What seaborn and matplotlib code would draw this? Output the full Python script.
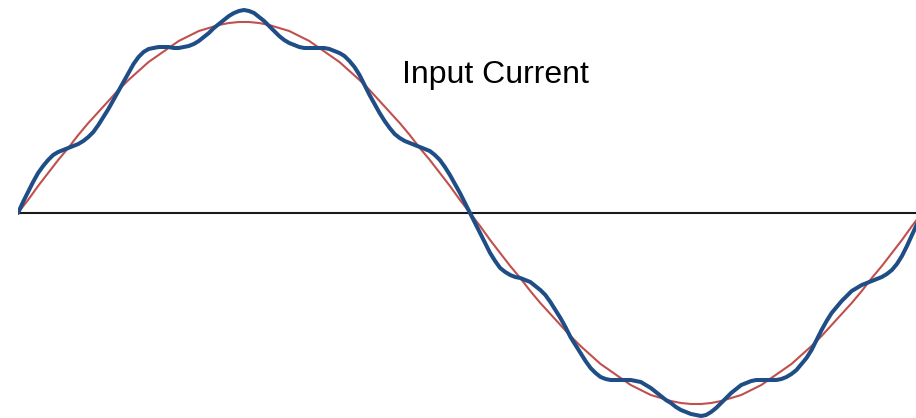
import numpy as np
import pandas as pd
import seaborn as sns
import matplotlib.pyplot as plt

# Phase angle in degrees
phase_fund = list(range(0, 361, 4))
phase_curr = list(range(0, 361, 2))

# Fundamental (pure sine), peak ~191
fundamental = [0, 13, 27, 40, 53, 65, 78, 90, 101, 112, 123, 133, 142, 151, 158, 165,
               172, 177, 182, 185, 188, 190, 191, 191, 190, 188, 185, 182, 177, 172,
               165, 158, 151, 142, 133, 123, 112, 101, 90, 78, 65, 53, 40, 27, 13, 0,
               -13, -27, -40, -53, -65, -78, -90, -101, -112, -123, -133, -142, -151,
               -158, -165, -172, -177, -182, -185, -188, -190, -191, -191, -190, -188,
               -185, -182, -177, -172, -165, -158, -151, -142, -133, -123, -112, -101,
               -90, -78, -65, -53, -40, -27, -13, 0]

# Distorted input current (every 2 degrees)
input_current = [
    0, 11, 21, 31, 40, 47, 53, 58, 61, 63, 65, 67, 69, 72, 76, 81, 88, 96, 104, 113,
    122, 131, 140, 149, 156, 161, 164, 165, 166, 166, 166, 165, 165, 166, 167, 169,
    172, 176, 180, 185, 189, 193, 197, 200, 202, 203, 202, 200, 196, 192, 187, 182,
    177, 173, 170, 168, 166, 165, 165, 165, 165, 165, 164, 162, 160, 157, 152, 146,
    138, 128, 118, 109, 100, 92, 85, 79, 75, 72, 70, 68, 66, 64, 62, 58, 53, 46, 38,
    29, 20, 10, 0,
    -10, -20, -30, -40, -48, -55, -59, -62, -64, -65, -67, -69, -73, -77, -82, -89,
    -97, -105, -114, -124, -132, -140, -148, -155, -160, -164, -166, -167, -167, -167,
    -167, -167, -168, -169, -172, -175, -179, -183, -187, -190, -194, -197, -199, -201,
    -202, -203, -202, -199, -195, -190, -185, -180, -176, -172, -170, -168, -167, -167,
    -167, -167, -167, -166, -164, -161, -157, -151, -145, -137, -127, -117, -108, -100,
    -94, -88, -83, -78, -75, -72, -70, -68, -66, -64, -61, -57, -51, -43, -33, -22, -11, 0]

fund_df = pd.DataFrame({'phase': phase_fund, 'value': fundamental})
curr_df = pd.DataFrame({'phase': phase_curr, 'value': input_current})

sns.set_style('white')
plt.rcParams['font.family'] = ['Liberation Sans', 'DejaVu Sans']

fig = plt.figure(figsize=(9.16, 4.18), dpi=100)
ax = fig.add_axes([18 / 916, 0, 1 - 18 / 916, 1])

ax.axhline(0, color='#1a1a1a', lw=1.5, zorder=1)
sns.lineplot(data=fund_df, x='phase', y='value', color='#c0504d', lw=1.5, ax=ax,
             zorder=2, solid_joinstyle='round')
sns.lineplot(data=curr_df, x='phase', y='value', color='#1f4e87', lw=2.9, ax=ax,
             zorder=3, solid_joinstyle='round', solid_capstyle='round')

ax.set_xlim(0, 357.6)
ax.set_ylim(-205, 213)
ax.axis('off')

fig.text(402 / 916, 1 - 75 / 418, 'Input Current', fontsize=23, ha='left', va='center',
         color='black')

plt.savefig('out.png', dpi=100)
